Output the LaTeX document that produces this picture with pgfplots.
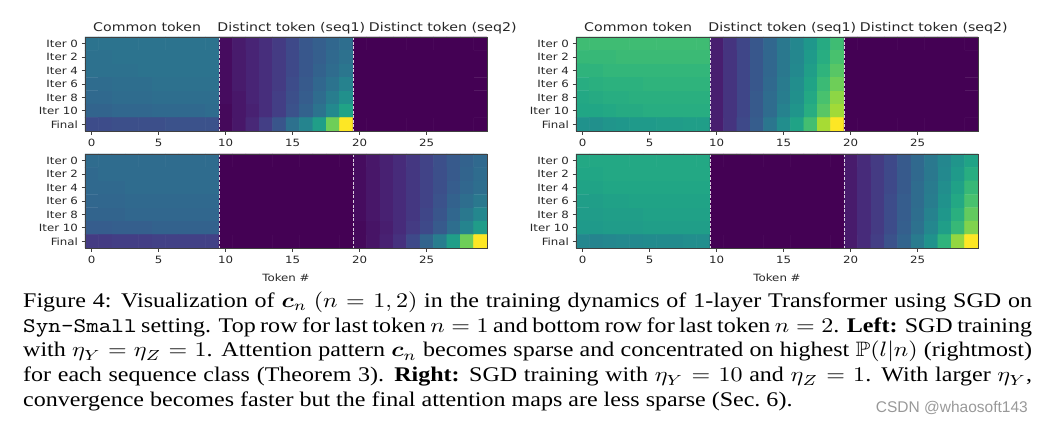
\documentclass[border=0pt]{standalone}
\usepackage{amsmath,amssymb}
\usepackage{pgfplots}
\pgfplotsset{compat=1.18}
\usepackage{fontspec}
\setmainfont{Liberation Serif}
\newfontfamily\mpl[FakeStretch=1.18]{DejaVu Sans}
\newfontfamily\wm{Liberation Sans}

% one heatmap panel: 7 rows (Iter 0 ... Final) x 30 tokens
\pgfplotsset{
  hm/.style={
    scale only axis, width=402pt, height=94pt, anchor=south west,
    xmin=-0.5, xmax=29.5, ymin=-0.5, ymax=6.5, y dir=reverse,
    enlargelimits=false, clip=false, axis on top,
    colormap name=viridis, point meta min=0, point meta max=1,
    xtick={0,5,...,25}, ytick={0,...,6},
    yticklabels={Iter 0,Iter 2,Iter 4,Iter 6,Iter 8,Iter 10,Final},
    tick align=outside, tick pos=left, major tick length=3.5pt,
    axis line style={black!75, line width=0.8pt},
    every tick/.style={black!75, line width=0.8pt},
    tick label style={font=\mpl\fontsize{10}{12}\selectfont, text=black!85},
    xticklabel style={yshift=-1.5pt},
    /pgf/number format/assume math mode=true,
    xlabel style={font=\mpl\fontsize{10}{12}\selectfont, text=black!85,
      at={(rel axis cs:0.5,0)}, anchor=base, yshift=-33pt},
  },
  hmplot/.style={matrix plot*, mesh/cols=30, point meta=explicit, draw=none},
  sep/.style={white, opacity=0.8, line width=1pt, dash pattern=on 3pt off 1.6pt},
  /pgfplots/table/hmtab/.style={header=false, row sep=\\, meta index=0,
    y expr={floor((\coordindex+0.5)/30)},
    x expr={\coordindex-30*floor((\coordindex+0.5)/30)}},
}
\newcommand\ttl[2]{\node[font=\mpl\fontsize{12}{14}\selectfont, text=black!85,
  anchor=base, yshift=5.5pt] at (axis cs:#1,-0.5) {#2};}
\newcommand\titles{\ttl{4.14}{Common token}\ttl{14.9}{Distinct token (seq1)}\ttl{26.2}{Distinct token (seq2)}}
\newcommand\seps{\addplot[sep] coordinates {(9.5,-0.5) (9.5,6.5)};
  \addplot[sep] coordinates {(19.5,-0.5) (19.5,6.5)};}
\newcommand\cl[1]{\makebox[420pt][s]{#1}\\}

\begin{document}
\begin{tikzpicture}[x=1pt, y=1pt]
\path[use as bounding box] (0,0) rectangle (1043,424);

% ---- top left: eta_Y = eta_Z = 1, last token n = 1
\begin{axis}[hm, at={(85pt,293pt)}]
\addplot[hmplot] table[hmtab] {
0.38\\0.38\\0.38\\0.38\\0.38\\0.38\\0.38\\0.38\\0.38\\0.38\\0.03\\0.07\\0.10\\0.13\\0.17\\0.22\\0.27\\0.30\\0.33\\0.36\\0\\0\\0\\0\\0\\0\\0\\0\\0\\0\\
0.37\\0.37\\0.38\\0.38\\0.38\\0.38\\0.38\\0.38\\0.38\\0.38\\0.03\\0.07\\0.10\\0.13\\0.17\\0.22\\0.27\\0.30\\0.34\\0.37\\0\\0\\0\\0\\0\\0\\0\\0\\0\\0\\
0.37\\0.37\\0.37\\0.37\\0.38\\0.38\\0.38\\0.38\\0.38\\0.38\\0.03\\0.07\\0.10\\0.13\\0.17\\0.22\\0.27\\0.31\\0.35\\0.39\\0\\0\\0\\0\\0\\0\\0\\0\\0\\0\\
0.35\\0.35\\0.36\\0.36\\0.36\\0.37\\0.37\\0.37\\0.37\\0.37\\0.03\\0.07\\0.10\\0.13\\0.17\\0.23\\0.28\\0.33\\0.38\\0.44\\0\\0\\0\\0\\0\\0\\0\\0\\0\\0\\
0.34\\0.34\\0.35\\0.35\\0.35\\0.36\\0.36\\0.36\\0.36\\0.36\\0.03\\0.06\\0.10\\0.13\\0.18\\0.24\\0.29\\0.35\\0.42\\0.50\\0\\0\\0\\0\\0\\0\\0\\0\\0\\0\\
0.32\\0.32\\0.33\\0.33\\0.33\\0.34\\0.34\\0.34\\0.34\\0.35\\0.02\\0.06\\0.09\\0.13\\0.18\\0.25\\0.31\\0.38\\0.47\\0.58\\0\\0\\0\\0\\0\\0\\0\\0\\0\\0\\
0.23\\0.23\\0.24\\0.24\\0.24\\0.24\\0.25\\0.25\\0.25\\0.25\\0.02\\0.06\\0.11\\0.18\\0.26\\0.37\\0.45\\0.56\\0.78\\1.00\\0\\0\\0\\0\\0\\0\\0\\0\\0\\0\\
};
\seps
\titles
\end{axis}

% ---- bottom left: eta_Y = eta_Z = 1, last token n = 2
\begin{axis}[hm, at={(85pt,176pt)}, xlabel={Token \#}]
\addplot[hmplot] table[hmtab] {
0.35\\0.35\\0.35\\0.35\\0.35\\0.35\\0.35\\0.35\\0.35\\0.35\\0\\0\\0\\0\\0\\0\\0\\0\\0\\0\\0.03\\0.06\\0.09\\0.12\\0.16\\0.20\\0.24\\0.28\\0.31\\0.34\\
0.34\\0.35\\0.35\\0.35\\0.35\\0.35\\0.35\\0.35\\0.35\\0.35\\0\\0\\0\\0\\0\\0\\0\\0\\0\\0\\0.03\\0.06\\0.09\\0.12\\0.16\\0.20\\0.24\\0.28\\0.32\\0.35\\
0.34\\0.34\\0.34\\0.35\\0.35\\0.35\\0.35\\0.35\\0.35\\0.35\\0\\0\\0\\0\\0\\0\\0\\0\\0\\0\\0.03\\0.06\\0.09\\0.12\\0.16\\0.20\\0.24\\0.29\\0.33\\0.36\\
0.33\\0.33\\0.33\\0.34\\0.34\\0.34\\0.34\\0.34\\0.34\\0.34\\0\\0\\0\\0\\0\\0\\0\\0\\0\\0\\0.03\\0.06\\0.09\\0.12\\0.16\\0.20\\0.25\\0.31\\0.36\\0.40\\
0.32\\0.32\\0.32\\0.33\\0.33\\0.33\\0.33\\0.33\\0.33\\0.33\\0\\0\\0\\0\\0\\0\\0\\0\\0\\0\\0.03\\0.06\\0.09\\0.12\\0.16\\0.21\\0.26\\0.33\\0.40\\0.46\\
0.29\\0.29\\0.30\\0.30\\0.30\\0.31\\0.31\\0.31\\0.31\\0.31\\0\\0\\0\\0\\0\\0\\0\\0\\0\\0\\0.02\\0.05\\0.08\\0.12\\0.17\\0.22\\0.28\\0.36\\0.45\\0.55\\
0.17\\0.17\\0.18\\0.18\\0.18\\0.19\\0.19\\0.19\\0.19\\0.19\\0\\0\\0\\0\\0\\0\\0\\0\\0\\0\\0.02\\0.05\\0.09\\0.14\\0.22\\0.32\\0.42\\0.56\\0.78\\1.00\\
};
\seps
\end{axis}

% ---- top right: eta_Y = 10, eta_Z = 1, last token n = 1
\begin{axis}[hm, at={(576pt,293pt)}]
\addplot[hmplot] table[hmtab] {
0.69\\0.69\\0.69\\0.69\\0.69\\0.69\\0.69\\0.69\\0.69\\0.69\\0.08\\0.15\\0.21\\0.27\\0.33\\0.40\\0.46\\0.53\\0.61\\0.69\\0\\0\\0\\0\\0\\0\\0\\0\\0\\0\\
0.67\\0.67\\0.67\\0.68\\0.68\\0.68\\0.68\\0.68\\0.68\\0.68\\0.08\\0.15\\0.21\\0.27\\0.33\\0.40\\0.46\\0.54\\0.62\\0.71\\0\\0\\0\\0\\0\\0\\0\\0\\0\\0\\
0.65\\0.65\\0.66\\0.66\\0.66\\0.66\\0.66\\0.66\\0.66\\0.66\\0.08\\0.15\\0.21\\0.27\\0.33\\0.40\\0.47\\0.56\\0.65\\0.74\\0\\0\\0\\0\\0\\0\\0\\0\\0\\0\\
0.62\\0.63\\0.64\\0.64\\0.64\\0.65\\0.65\\0.65\\0.65\\0.65\\0.08\\0.15\\0.21\\0.27\\0.34\\0.41\\0.49\\0.58\\0.68\\0.78\\0\\0\\0\\0\\0\\0\\0\\0\\0\\0\\
0.60\\0.61\\0.62\\0.62\\0.63\\0.63\\0.63\\0.63\\0.63\\0.63\\0.08\\0.15\\0.21\\0.28\\0.35\\0.42\\0.50\\0.60\\0.71\\0.83\\0\\0\\0\\0\\0\\0\\0\\0\\0\\0\\
0.59\\0.59\\0.60\\0.61\\0.61\\0.62\\0.62\\0.62\\0.62\\0.62\\0.08\\0.15\\0.21\\0.28\\0.35\\0.44\\0.52\\0.62\\0.74\\0.86\\0\\0\\0\\0\\0\\0\\0\\0\\0\\0\\
0.51\\0.50\\0.52\\0.53\\0.54\\0.54\\0.55\\0.55\\0.56\\0.56\\0.08\\0.15\\0.22\\0.29\\0.39\\0.49\\0.58\\0.70\\0.87\\1.00\\0\\0\\0\\0\\0\\0\\0\\0\\0\\0\\
};
\seps
\titles
\end{axis}

% ---- bottom right: eta_Y = 10, eta_Z = 1, last token n = 2
\begin{axis}[hm, at={(576pt,176pt)}, xlabel={Token \#}]
\addplot[hmplot] table[hmtab] {
0.60\\0.60\\0.60\\0.60\\0.60\\0.60\\0.60\\0.60\\0.60\\0.60\\0\\0\\0\\0\\0\\0\\0\\0\\0\\0\\0.07\\0.12\\0.17\\0.22\\0.28\\0.34\\0.40\\0.46\\0.52\\0.58\\
0.59\\0.59\\0.60\\0.60\\0.60\\0.60\\0.60\\0.60\\0.60\\0.60\\0\\0\\0\\0\\0\\0\\0\\0\\0\\0\\0.07\\0.12\\0.17\\0.22\\0.28\\0.34\\0.40\\0.47\\0.54\\0.62\\
0.58\\0.58\\0.59\\0.59\\0.59\\0.59\\0.59\\0.59\\0.59\\0.59\\0\\0\\0\\0\\0\\0\\0\\0\\0\\0\\0.07\\0.12\\0.17\\0.22\\0.28\\0.35\\0.41\\0.49\\0.57\\0.67\\
0.56\\0.56\\0.57\\0.57\\0.58\\0.58\\0.58\\0.58\\0.58\\0.58\\0\\0\\0\\0\\0\\0\\0\\0\\0\\0\\0.07\\0.12\\0.17\\0.23\\0.29\\0.35\\0.42\\0.51\\0.60\\0.71\\
0.55\\0.55\\0.56\\0.56\\0.56\\0.57\\0.57\\0.57\\0.57\\0.57\\0\\0\\0\\0\\0\\0\\0\\0\\0\\0\\0.07\\0.12\\0.17\\0.23\\0.29\\0.36\\0.44\\0.53\\0.63\\0.76\\
0.54\\0.54\\0.55\\0.55\\0.55\\0.56\\0.56\\0.56\\0.56\\0.56\\0\\0\\0\\0\\0\\0\\0\\0\\0\\0\\0.07\\0.12\\0.17\\0.23\\0.30\\0.37\\0.46\\0.56\\0.67\\0.81\\
0.46\\0.45\\0.46\\0.47\\0.47\\0.48\\0.48\\0.48\\0.49\\0.49\\0\\0\\0\\0\\0\\0\\0\\0\\0\\0\\0.07\\0.12\\0.18\\0.25\\0.32\\0.41\\0.51\\0.65\\0.84\\1.00\\
};
\seps
\end{axis}

% ---- caption (the screenshot is stretched wider than tall)
\node[anchor=base west, inner sep=0pt] at (23,117) {\scalebox{2.402}[2.083]{\parbox[t]{420pt}{\fontsize{10}{12}\selectfont
\cl{Figure 4: Visualization of $\boldsymbol{c}_n$ $(n=1,2)$ in the training dynamics of 1-layer Transformer using SGD on}
\cl{\texttt{Syn-Small} setting. Top row for last token $n=1$ and bottom row for last token $n=2$. \textbf{Left:} SGD training}
\cl{with $\eta_Y=\eta_Z=1$. Attention pattern $\boldsymbol{c}_n$ becomes sparse and concentrated on highest $\mathbb{P}(l|n)$ (rightmost)}
\cl{for each sequence class (Theorem 3). \textbf{Right:} SGD training with $\eta_Y=10$ and $\eta_Z=1$. With larger $\eta_Y$,}
convergence becomes faster but the final attention maps are less sparse (Sec.~6).}}};

\node[anchor=base east, inner sep=0pt, text=black!40, font=\wm\fontsize{15.5}{18}\selectfont] at (1028,12) {CSDN @whaosoft143};
\end{tikzpicture}
\end{document}
